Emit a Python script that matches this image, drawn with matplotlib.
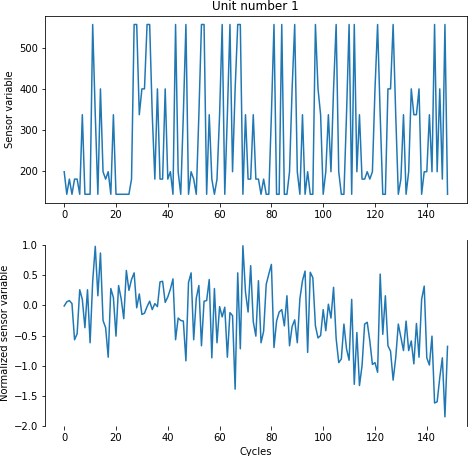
import matplotlib
matplotlib.use("Agg")
import matplotlib.pyplot as plt

# raw sensor reading per cycle (unit 1)
sensor = [198, 143, 180, 143, 180, 180, 143, 337, 143, 143,
          143, 557, 337, 143, 400, 198, 180, 198, 143, 337,
          143, 143, 143, 143, 143, 143, 180, 557, 557, 337,
          400, 400, 557, 557, 337, 180, 400, 180, 180, 400,
          180, 198, 143, 557, 198, 143, 337, 557, 143, 198,
          180, 143, 337, 557, 557, 143, 337, 180, 143, 180,
          337, 557, 143, 337, 557, 198, 400, 557, 557, 143,
          337, 180, 180, 337, 180, 180, 143, 180, 143, 143,
          337, 557, 143, 143, 557, 143, 143, 198, 400, 557,
          198, 143, 337, 143, 198, 143, 143, 557, 400, 337,
          143, 198, 337, 198, 400, 557, 198, 143, 143, 337,
          557, 143, 557, 198, 337, 180, 180, 198, 180, 198,
          400, 557, 337, 143, 143, 400, 400, 557, 337, 143,
          180, 337, 143, 198, 400, 337, 337, 400, 143, 198,
          198, 337, 198, 557, 198, 400, 180, 557, 143]

# normalized sensor reading per cycle
normalized = [-0.01, 0.06, 0.08, 0.03, -0.57, -0.47, 0.26, 0.10, -0.37, 0.26,
              -0.62, 0.40, 0.98, 0.16, 0.87, -0.25, -0.37, -0.86, 0.28, 0.13,
              -0.51, 0.33, 0.11, -0.22, 0.58, 0.25, 0.43, 0.54, -0.04, 0.19,
              -0.15, -0.13, -0.02, 0.07, -0.07, 0.03, -0.02, 0.39, 0.40, 0.05,
              0.14, 0.27, 0.44, -0.57, -0.21, -0.25, -0.26, -0.92, 0.38, 0.54,
              -0.57, 0.12, 0.33, -0.67, 0.07, 0.08, 0.43, -0.87, 0.28, -0.62,
              -0.02, -0.19, -0.03, -0.86, -0.12, -0.17, -1.39, 0.54, -0.72, 0.99,
              0.22, -0.11, 0.66, -0.27, -0.51, 0.41, -0.62, -0.43, 0.35, 0.52,
              0.68, -0.70, -0.26, -0.11, -0.07, -0.34, 0.16, -0.67, -0.35, -0.24,
              -0.62, 0.11, 0.41, 0.57, -0.78, 0.55, 0.46, -0.34, -0.54, -0.50,
              -0.07, -0.42, 0.02, -0.21, 0.30, -0.55, -0.95, -0.89, -0.31, -0.72,
              -0.91, 0.10, -1.31, -0.45, -1.33, -1.00, -0.31, -0.28, -0.59, -0.98,
              -0.95, -1.11, 0.52, -0.48, 0.16, -0.67, -0.76, -1.24, -0.87, -0.31,
              -0.53, -0.75, -0.26, -0.75, -0.59, -0.97, -0.30, -0.86, 0.10, 0.32,
              -0.87, -0.99, -0.51, -1.62, -1.60, -1.20, -0.87, -1.85, -0.68]

cycles = list(range(len(sensor)))

fig, (ax1, ax2) = plt.subplots(2, 1, figsize=(468 / 72, 456 / 72), dpi=72)
fig.subplots_adjust(left=0.0962, right=0.9972, top=0.9649, bottom=0.0647, hspace=0.198)

# top: raw sensor
ax1.plot(cycles, sensor, color='#1f77b4', linewidth=1.5)
ax1.set_title('Unit number 1')
ax1.set_ylabel('Sensor variable')
ax1.set_yticks([200, 300, 400, 500])

# bottom: normalized sensor, despined look
ax2.plot(cycles, normalized, color='#1f77b4', linewidth=1.5)
ax2.set_ylim(-2.01, 1.09)
ax2.set_yticks([-2.0, -1.5, -1.0, -0.5, 0.0, 0.5, 1.0])
ax2.set_ylabel('Normalized sensor variable')
ax2.set_xlabel('Cycles')
ax2.spines['top'].set_visible(False)
ax2.spines['bottom'].set_visible(False)
ax2.spines['left'].set_bounds(-2.0, 1.0)

fig.savefig('out.png', dpi=72)
